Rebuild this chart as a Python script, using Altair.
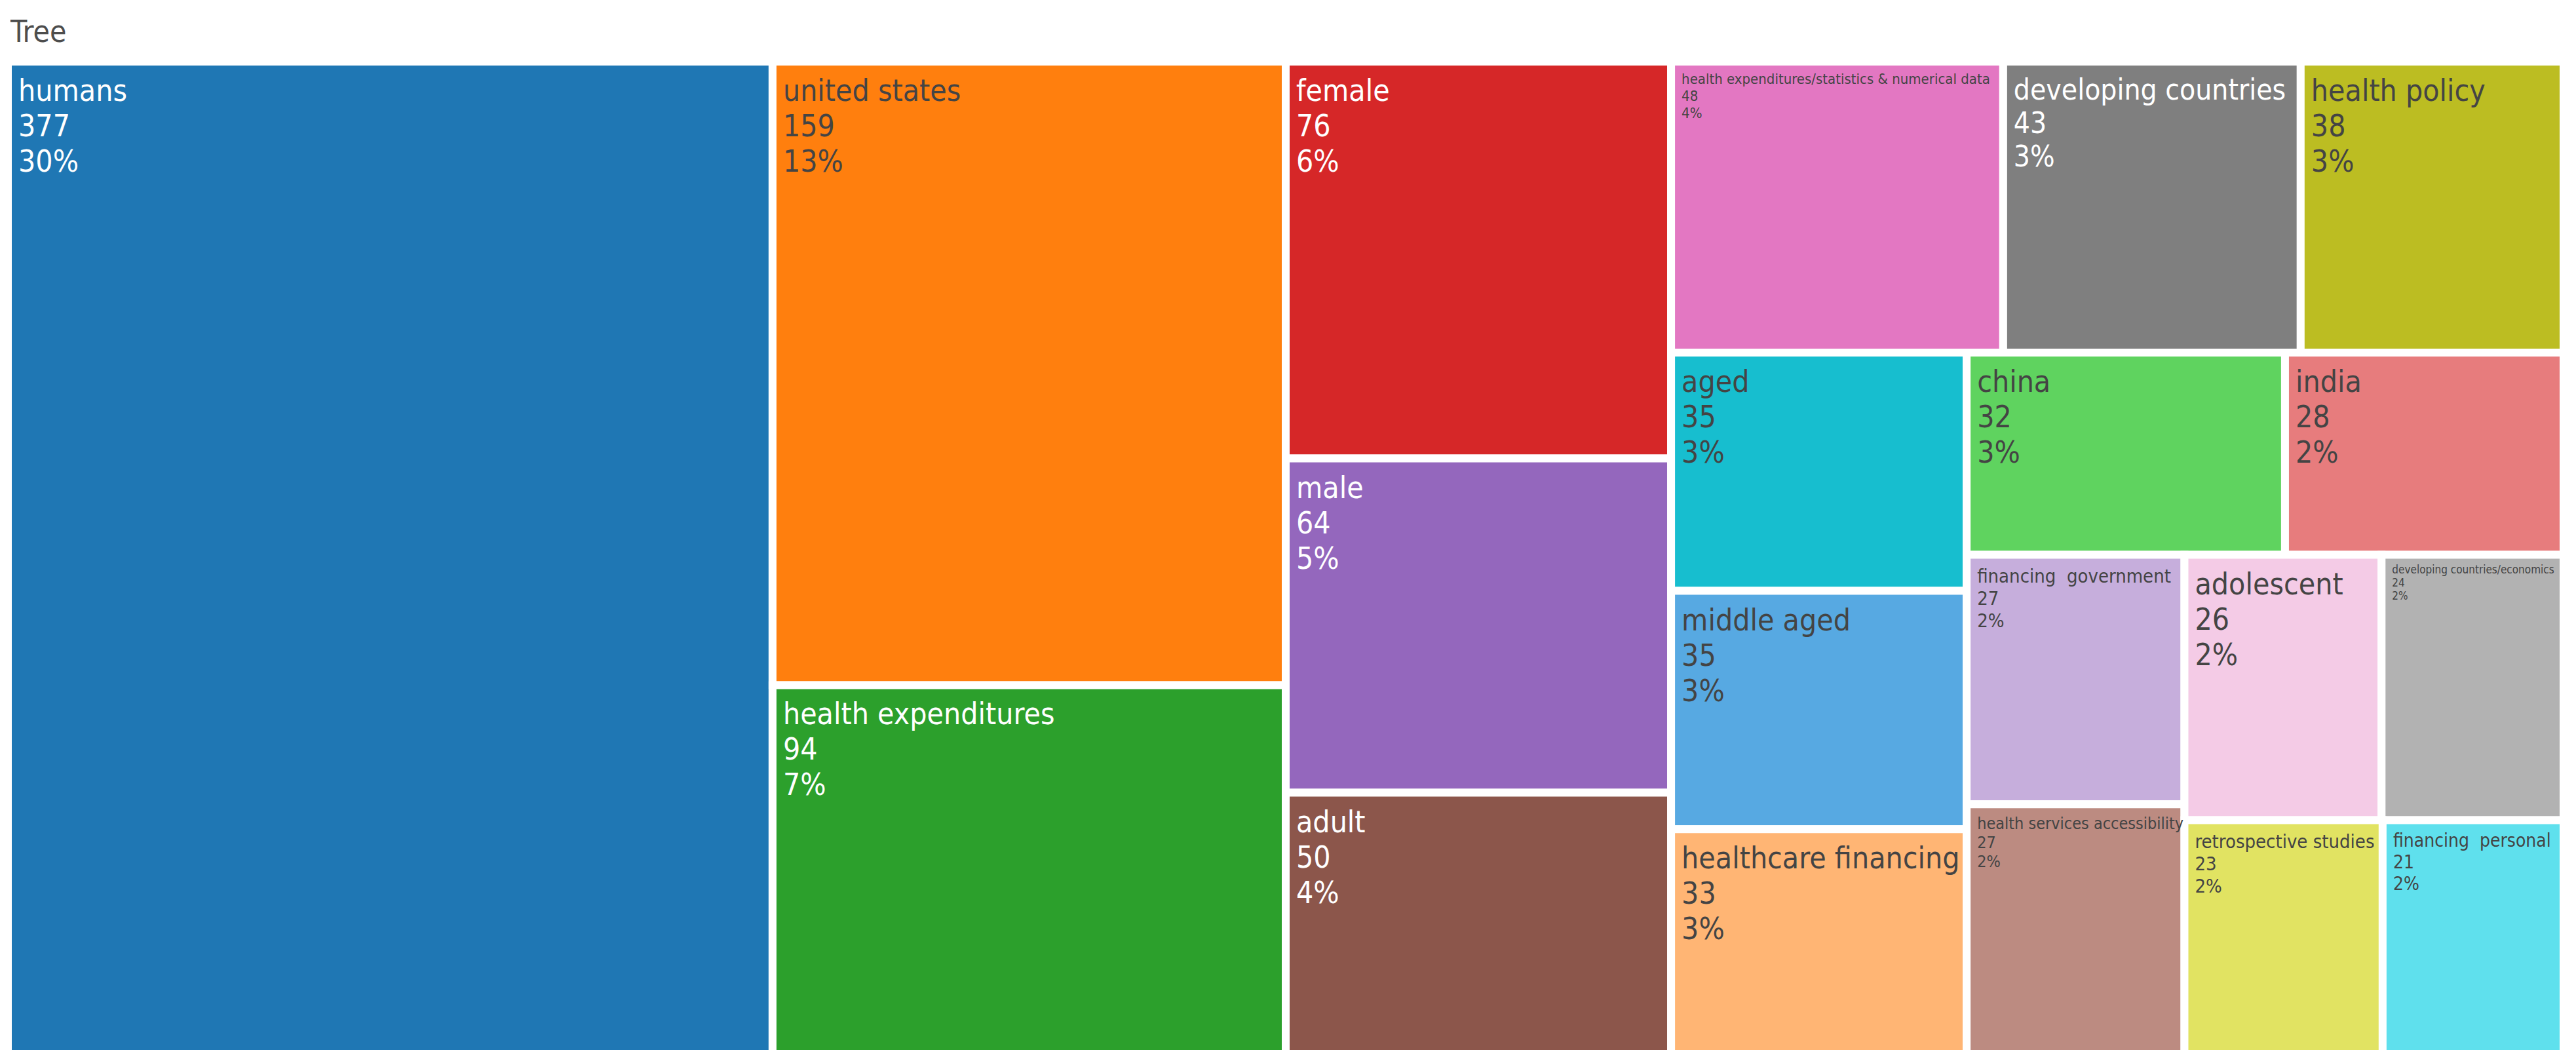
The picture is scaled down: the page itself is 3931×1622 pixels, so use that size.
import altair as alt
import pandas as pd

# ---- data ----
labels = [
    "humans", "united states", "health expenditures", "female", "male", "adult",
    "health expenditures/statistics & numerical data", "developing countries",
    "health policy", "aged", "middle aged", "healthcare financing", "china", "india",
    "financing\u00a0 government", "health services accessibility", "adolescent",
    "developing countries/economics", "retrospective studies", "financing\u00a0 personal",
]
counts = [377, 159, 94, 76, 64, 50, 48, 43, 38, 35, 35, 33, 32, 28, 27, 27, 26, 24, 23, 21]

# ---- styles ----
fill_colors = [
    "#1f77b4", "#ff7f0e", "#2ca02c", "#d62728", "#9467bd", "#8c564b", "#e377c2",
    "#7f7f7f", "#bcbd22", "#17becf", "#57a9e2", "#ffb574", "#5fd35f", "#e77c7d",
    "#c6aedc", "#bc8b81", "#f4cbe6", "#b2b2b2", "#e1e362", "#5fe0ed",
]
DARK = "#444444"
LIGHT = "#ffffff"
text_colors = [
    LIGHT, DARK, LIGHT, LIGHT, LIGHT, LIGHT, DARK, LIGHT, DARK, DARK,
    DARK, DARK, DARK, DARK, DARK, DARK, DARK, DARK, DARK, DARK,
]
font_sizes = [46, 46, 46, 46, 46, 46, 22, 44, 46, 46, 46, 46, 46, 46, 29, 25, 46, 17, 29, 28]

FONT = "DejaVu Sans Condensed, DejaVu Sans"
W, H = 3900, 1514


def squarify(values, x0, y0, x1, y1, ratio=1.0):
    """d3-hierarchy squarified treemap tiling."""
    rects = [None] * len(values)
    n = len(values)
    i0 = i1 = 0
    value = float(sum(values))
    while i0 < n:
        dx, dy = x1 - x0, y1 - y0
        sum_v = values[i1]
        i1 += 1
        min_v = max_v = sum_v
        alpha = max(dy / dx, dx / dy) / (value * ratio)
        beta = sum_v * sum_v * alpha
        min_ratio = max(max_v / beta, beta / min_v)
        while i1 < n:
            nv = values[i1]
            s = sum_v + nv
            mn, mx = min(min_v, nv), max(max_v, nv)
            beta = s * s * alpha
            nr = max(mx / beta, beta / mn)
            if nr > min_ratio:
                break
            sum_v, min_v, max_v, min_ratio = s, mn, mx, nr
            i1 += 1
        if dx < dy:
            ry1 = y0 + dy * sum_v / value
            k = dx / sum_v
            cx = x0
            for i in range(i0, i1):
                rects[i] = (cx, y0, cx + values[i] * k, ry1)
                cx += values[i] * k
            y0 = ry1
        else:
            rx1 = x0 + dx * sum_v / value
            k = dy / sum_v
            cy = y0
            for i in range(i0, i1):
                rects[i] = (x0, cy, rx1, cy + values[i] * k)
                cy += values[i] * k
            x0 = rx1
        value -= sum_v
        i0 = i1
    return rects


total = sum(counts)
rects = squarify(counts, 0.0, 0.0, float(W), float(H))
df = pd.DataFrame({
    "name": labels,
    "count": counts,
    "x0": [r[0] for r in rects],
    "y0": [r[1] for r in rects],
    "x1": [r[2] for r in rects],
    "y1": [r[3] for r in rects],
    "fill": fill_colors,
    "tc": text_colors,
    "fs": font_sizes,
})
df["label"] = [f"{n}\n{c}\n{round(c / total * 100)}%" for n, c in zip(labels, counts)]

xs = alt.Scale(domain=[0, W], nice=False, zero=False)
ys = alt.Scale(domain=[0, H], nice=False, zero=False, reverse=True)

base = alt.Chart(df)
tiles = base.mark_rect(stroke="white", strokeWidth=12).encode(
    x=alt.X("x0:Q", scale=xs, axis=None),
    x2="x1:Q",
    y=alt.Y("y0:Q", scale=ys, axis=None),
    y2="y1:Q",
    color=alt.Color("fill:N", scale=None),
)

layers = [tiles]
for s in sorted(set(font_sizes)):
    layers.append(
        base.transform_filter(alt.datum.fs == s)
        .mark_text(
            align="left", baseline="top", fontSize=s, lineHeight=round(s * 1.17),
            lineBreak="\n", dx=16, dy=round(10 + 0.3 * s), font=FONT,
        )
        .encode(
            x=alt.X("x0:Q", scale=xs, axis=None),
            y=alt.Y("y0:Q", scale=ys, axis=None),
            text="label:N",
            color=alt.Color("tc:N", scale=None),
        )
    )

chart = (
    alt.layer(*layers)
    .properties(
        width=W, height=H,
        title=alt.Title("Tree", anchor="start", fontSize=46, font=FONT, color="#4d4d4d",
                        fontWeight="normal", dx=10, offset=14),
        padding={"left": 4, "top": 86, "right": 2, "bottom": 2},
        autosize="none",
    )
    .configure_view(stroke=None)
)

chart.save("out.html", embed_options={"renderer": "svg", "actions": False})
